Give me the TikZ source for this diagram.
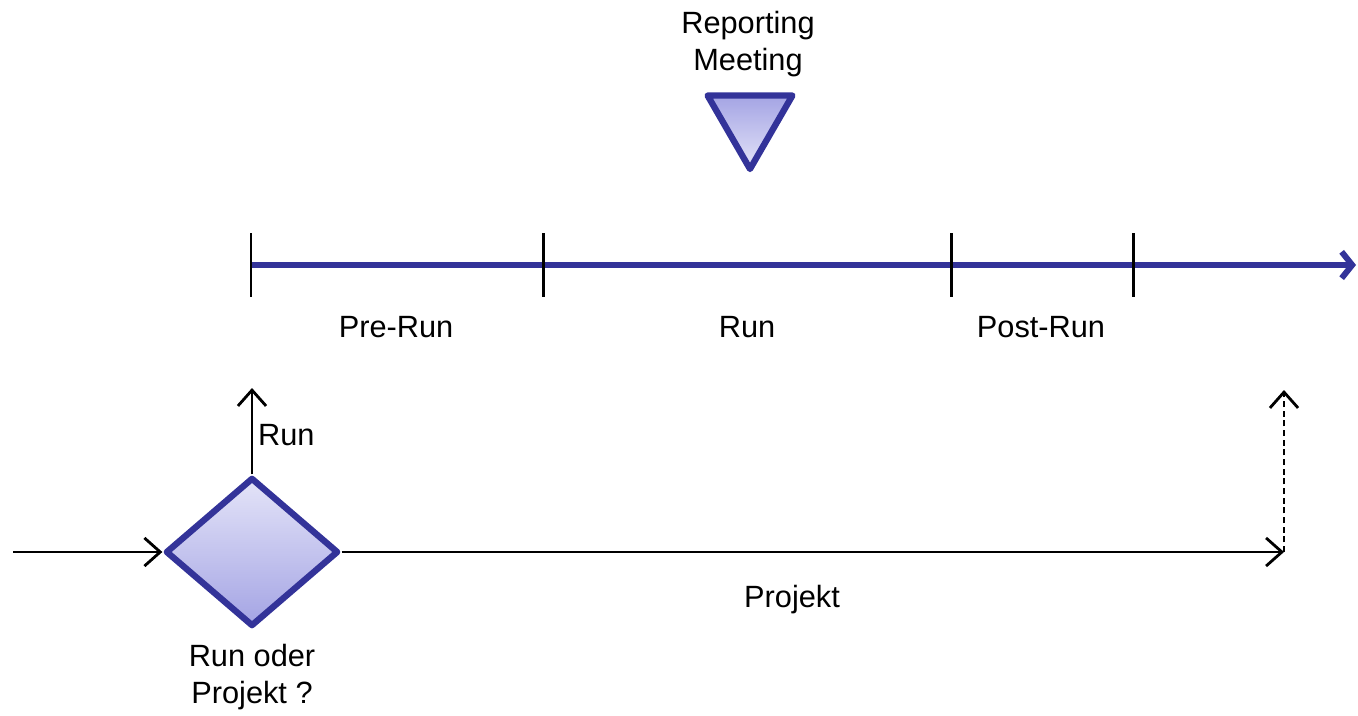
\documentclass[tikz,border=0pt]{standalone}
\usepackage{fontspec}
\setmainfont{Liberation Sans}
\usetikzlibrary{calc,shapes.geometric,arrows.meta}
\definecolor{darkblue}{RGB}{51,51,153}
\definecolor{lightlav}{RGB}{228,228,248}
\definecolor{midlav}{RGB}{164,164,228}

\begin{document}
\begin{tikzpicture}[x=0.02cm,y=-0.02cm]

\def\axline{3.4pt};
\def\tickline{1.7pt};
\def\arline{1.6pt};
\def\shapeline{3.6pt};

\tikzset{
  lbl/.style={font=\fontsize{17.5}{21}\selectfont,align=center,inner sep=1pt},
  barb/.style={-{Straight Barb[length=9pt,width=16pt,line width=\arline]},line width=\arline},
  decision/.style={diamond,draw=darkblue,line width=\shapeline,line join=round,
    top color=lightlav,bottom color=midlav,inner sep=0pt,
    minimum width=3.46cm,minimum height=2.98cm},
  meeting/.style={regular polygon,regular polygon sides=3,shape border rotate=180,
    draw=darkblue,line width=\shapeline,line join=round,
    top color=midlav,bottom color=lightlav,inner sep=0pt,minimum size=1.96cm}
}

\useasboundingbox (0,0) rectangle (1358,716);

% time line with the phases
\coordinate (T0) at (251,265);
\coordinate (T1) at (543,265);
\coordinate (T2) at (951,265);
\coordinate (T3) at (1133,265);
\coordinate (Tend) at (1356,265);

\draw [line width=\axline,darkblue,-{Straight Barb[length=6pt,width=15pt,line width=\axline]}] (T0) -- (Tend);

\foreach \x in {0,...,3}
{
\draw [line width=\tickline] ($(T\x)+(0,-32)$) -- ($(T\x)+(0,32)$);
}

\node [lbl] (prerun) at (396,327) {Pre-Run};
\node [lbl] (run) at (747,327) {Run};
\node [lbl] (postrun) at (1041,327) {Post-Run};

% reporting meeting
\node [meeting] (rm) at (750,120) {};
\node [lbl] (rmtext) at (748,44) {Reporting\\Meeting};

% decision
\node [decision] (dec) at (252,552) {};
\node [lbl] (dectext) at (252,677) {Run oder\\Projekt ?};

\coordinate (start) at (13,552);
\coordinate (runend) at (252,388);
\coordinate (projend) at (1284,552);
\coordinate (projup) at (1284,390);

\draw [barb] (start) -- (dec.west);
\draw [barb] (dec.north) -- (runend);
\draw [barb] (dec.east) -- (projend);
\draw [barb,dash pattern=on 3.5pt off 2pt] (projend) -- (projup);

\node [lbl,anchor=west] (runlbl) at (256,435) {Run};
\node [lbl] (projlbl) at (792,600) {Projekt};

\end{tikzpicture}
\end{document}
